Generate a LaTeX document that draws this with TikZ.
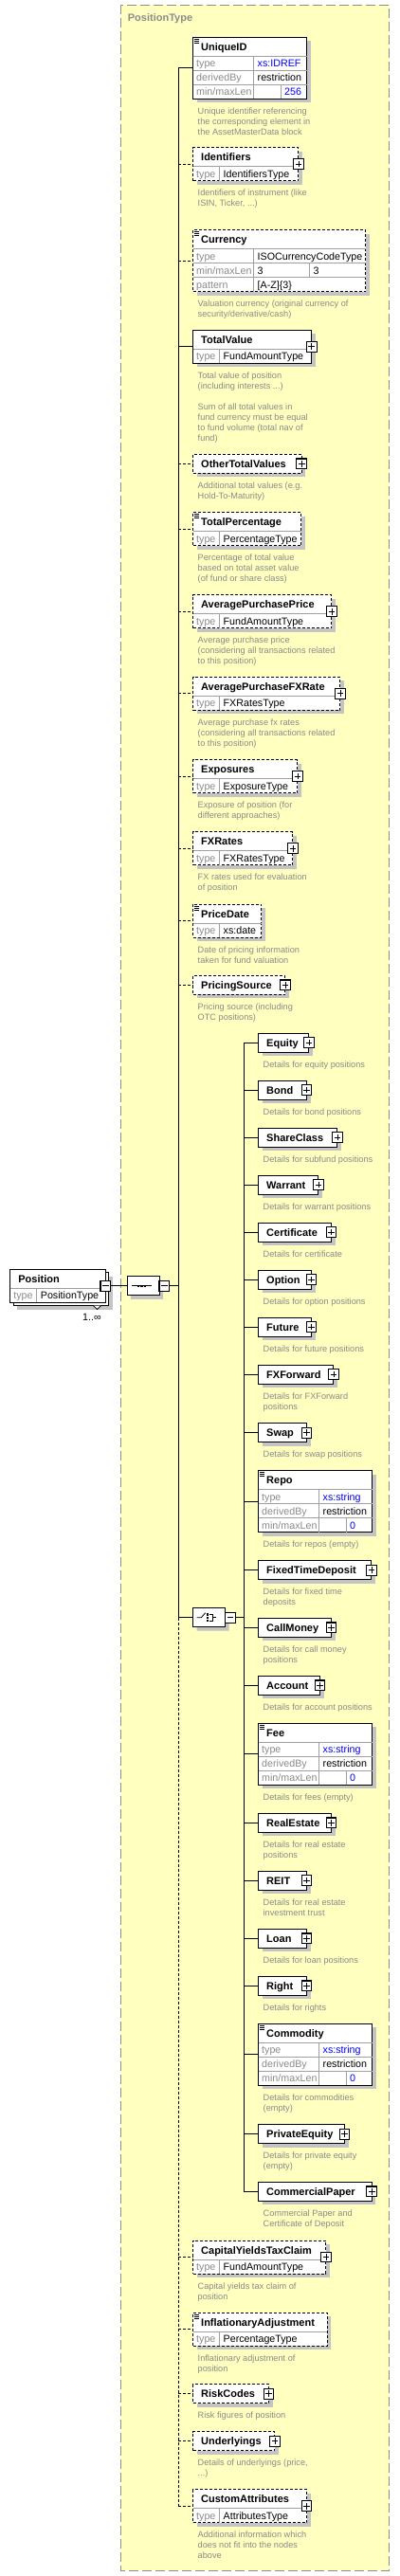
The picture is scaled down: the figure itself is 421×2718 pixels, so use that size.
\documentclass[tikz,border=0pt]{standalone}
\usepackage{fontspec}
\setmainfont{Liberation Sans}
\usetikzlibrary{shapes.misc}

\definecolor{typeyellow}{HTML}{FFFFC0}
\definecolor{framegray}{HTML}{8C8C8C}
\definecolor{shadowgray}{HTML}{C4C4C4}
\definecolor{descgray}{HTML}{8A8A8A}
\definecolor{labelgray}{HTML}{8A8A8A}
\definecolor{sepgray}{HTML}{A0A0A0}
\definecolor{xsblue}{HTML}{0000FF}

\newcommand{\namefont}{\fontsize{11}{13}\selectfont\bfseries}
\newcommand{\cellfont}{\fontsize{10.7}{12}\selectfont}
\newcommand{\descfont}{\fontsize{9.2}{11}\selectfont}

\begin{document}
\begin{tikzpicture}[x=1pt, y=-1pt]

% GLOBAL SETTINGS
\tikzset{
  box/.style={draw, fill=white, line width=0.9pt, inner sep=0pt, outer sep=0pt},
  mand/.style={box},
  opt/.style={box, dash pattern=on 3pt off 2pt},
  comp/.style={box, chamfered rectangle, chamfered rectangle xsep=4pt,
    chamfered rectangle ysep=4pt, minimum width=34pt, minimum height=20pt},
  compshade/.style={comp, draw=none, fill=shadowgray},
  minusbox/.style={draw, fill=white, line width=1.1pt, minimum size=10.7pt, inner sep=0pt,
    outer sep=0pt, path picture={\draw[line width=0.8pt]
      ([xshift=2pt]path picture bounding box.west) -- ([xshift=-2pt]path picture bounding box.east);}},
  plusbox/.style={draw, fill=white, line width=1.1pt, minimum size=10.7pt, inner sep=0pt,
    outer sep=0pt, path picture={\draw[line width=0.8pt]
      ([xshift=2pt]path picture bounding box.west) -- ([xshift=-2pt]path picture bounding box.east)
      ([yshift=-2pt]path picture bounding box.north) -- ([yshift=2pt]path picture bounding box.south);}},
  elname/.style={font=\namefont, inner sep=0pt, anchor=base west},
  celltxt/.style={font=\cellfont, inner sep=0pt, anchor=base west},
  desc/.style={font=\descfont, text=descgray, align=left, inner sep=0pt, anchor=north west},
  sepline/.style={draw=sepgray, line width=0.8pt},
  edge/.style={line width=0.9pt},
  optline/.style={dash pattern=on 3pt off 2pt},
  frame/.style={draw=framegray, fill=typeyellow, line width=1pt, dash pattern=on 10pt off 4pt}
}

% SHARED CODE
\newcommand{\elem}[6]{%
  \fill[shadowgray] (#2+4,#3+4) rectangle ++(#4,#5);
  \node[#6, minimum width=#4pt, minimum height=#5pt, anchor=north west] (#1) at (#2,#3) {};
  \node[elname] (#1-n) at ([shift={(8.5pt,-14pt)}]#1.north west) {#1};}
\newcommand{\tsep}[2]{%
  \pgfmathsetmacro{\rtop}{20+15*(#2-1)}
  \draw[sepline] ([yshift=-\rtop pt]#1.north west) -- ([yshift=-\rtop pt]#1.north east);}
\newcommand{\tsplit}[3]{%
  \pgfmathsetmacro{\rtop}{20+15*(#3-1)}
  \draw[sepline] ([shift={(#2pt,-\rtop pt)}]#1.north west) -- ([xshift=#2pt]#1.south west);}
\newcommand{\tcell}[6]{%
  \pgfmathsetmacro{\rbase}{31.5+15*(#4-1)}
  \node[celltxt, text=#5] (#1-#2) at ([shift={(#3pt,-\rbase pt)}]#1.north west) {#6};}
\newcommand{\typed}[2]{%
  \tsep{#1}{1}\tsplit{#1}{28}{1}
  \tcell{#1}{l1}{3.5}{1}{labelgray}{type}\tcell{#1}{v1}{32}{1}{black}{#2}}
\newcommand{\restr}[3]{%
  \tsep{#1}{1}\tsep{#1}{2}\tsep{#1}{3}\tsplit{#1}{64}{1}\tsplit{#1}{92.4}{3}
  \tcell{#1}{l1}{3.5}{1}{labelgray}{type}\tcell{#1}{v1}{68}{1}{xsblue}{#2}
  \tcell{#1}{l2}{3.5}{2}{labelgray}{derivedBy}\tcell{#1}{v2}{68}{2}{black}{restriction}
  \tcell{#1}{l3}{3.5}{3}{labelgray}{min/maxLen}\tcell{#1}{v3}{96.4}{3}{xsblue}{#3}}
\newcommand{\sicon}[1]{%
  \draw[line width=0.6pt] ([shift={(1.5pt,-2pt)}]#1.north west) -- +(5pt,0pt)
    ([shift={(1.5pt,-4pt)}]#1.north west) -- +(5pt,0pt)
    ([shift={(1.5pt,-6pt)}]#1.north west) -- +(4.5pt,0pt);}
\newcommand{\desc}[2]{%
  \node[desc] (#1-d) at ([shift={(5pt,-8.1pt)}]#1.south west) {\strut #2};}

\useasboundingbox (0,0) rectangle (421,2718);

% TYPE FRAME
\draw[frame] (127.3,5.3) rectangle (410.7,2712.3);
\node[elname, text=framegray] (ptype) at (134.7,22.3) {PositionType};
\coordinate (spx) at (188.3,0);
\coordinate (cpx) at (257.3,0);

% POSITION
\fill[shadowgray] (18,1346.5) rectangle ++(100.6,35);
\node[box, minimum width=100.6pt, minimum height=35pt, anchor=north west] (Position-b) at (14,1342.5) {};
\node[box, minimum width=100.6pt, minimum height=35pt, anchor=north west] (Position) at (10.7,1339.3) {};
\node[elname] (Position-n) at ([shift={(8.5pt,-14pt)}]Position.north west) {Position};
\typed{Position}{PositionType}
\draw[line width=0.8pt, fill=white] (98.3,1377.5) -- (102.5,1381.5) -- (106.7,1377.5);
\node[celltxt] (Position-m) at (87,1393.3) {1..∞};
\node[minusbox] (Position-c) at (Position.east) {};

% SEQUENCE
\node[compshade] (seq-s) at (155,1360.8) {};
\node[comp] (seq) at (151,1356.8) {};
\node[minusbox, anchor=west] (seq-c) at (seq.east) {};
\draw[line width=0.8pt] ([xshift=-11.7pt]seq.center) -- ([xshift=9pt]seq.center);
\foreach \dx in {-5,-1.5,2}
  \fill ([shift={(\dx pt-1.3pt,-1.3pt)}]seq.center) rectangle +(2.6pt,2.6pt);

% MAIN ELEMENTS
\foreach \nm/\by/\bw/\bh/\bs in {UniqueID/39/120/65/mand,Identifiers/155.5/111.4/35/opt,
  Currency/242.7/182.4/65/opt,TotalValue/348.3/125.3/35/mand,OtherTotalValues/479.3/114.7/20/opt,
  TotalPercentage/540.7/114.4/35/opt,AveragePurchasePrice/627.7/146.4/35/opt,
  AveragePurchaseFXRate/714.3/155.4/35/opt,Exposures/801.5/110.4/35/opt,FXRates/877.7/105.4/35/opt,
  PriceDate/954/72.4/35/opt,PricingSource/1029.3/97.4/20/opt,CapitalYieldsTaxClaim/2364/140.4/35/opt,
  InflationaryAdjustment/2440/141.7/35/opt,RiskCodes/2515.7/80/20/opt,Underlyings/2565.7/86.4/20/opt,
  CustomAttributes/2626.7/120/35/opt} {
  \elem{\nm}{203.5}{\by}{\bw}{\bh}{\bs}
}

% CHOICE
\node[compshade] (choice-s) at (224.5,1710.7) {};
\node[comp] (choice) at (220.5,1706.7) {};
\node[minusbox, anchor=west] (choice-c) at (choice.east) {};
\draw[line width=0.8pt] ([xshift=-12.8pt]choice.center) -- ([xshift=-8.2pt]choice.center)
  -- ([shift={(-3.8pt,5pt)}]choice.center);
\foreach \dy in {3.3,0,-3.3}
  \fill ([shift={(-2.7pt,\dy pt-1.2pt)}]choice.center) rectangle +(2.4pt,2.4pt);
\draw[line width=0.8pt] ([shift={(0.5pt,3.3pt)}]choice.center) -- ([shift={(3.8pt,3.3pt)}]choice.center)
  -- ([shift={(3.8pt,-3.3pt)}]choice.center) -- ([shift={(0.5pt,-3.3pt)}]choice.center)
  ([xshift=3.8pt]choice.center) -- ([xshift=7.8pt]choice.center);

\foreach \nm/\by/\bw/\bh in {Equity/1090/53.4/20,Bond/1140/51/20,ShareClass/1190/83.4/20,
  Warrant/1240/63.4/20,Certificate/1290/77/20,Option/1340/56/20,Future/1390/56/20,
  FXForward/1440/79.4/20,Swap/1501.7/51/20,Repo/1551.7/120/65,FixedTimeDeposit/1646.7/119.4/20,
  CallMoney/1707.3/77/20,Account/1768.3/65/20,Fee/1818.3/120/65,RealEstate/1913.3/77/20,
  REIT/1974/51/20,Loan/2035.3/51/20,Right/2085.3/51/20,Commodity/2135.3/120/65,
  PrivateEquity/2241.7/91/20,CommercialPaper/2302.3/119.7/20} {
  \elem{\nm}{272.5}{\by}{\bw}{\bh}{mand}
}

% TABLES
\restr{UniqueID}{xs:IDREF}{256}
\restr{Repo}{xs:string}{0}
\restr{Fee}{xs:string}{0}
\restr{Commodity}{xs:string}{0}
\tsep{Currency}{1}\tsep{Currency}{2}\tsep{Currency}{3}\tsplit{Currency}{64}{1}
\draw[sepline] ([shift={(123pt,-35pt)}]Currency.north west) -- ([shift={(123pt,-50pt)}]Currency.north west);
\tcell{Currency}{l1}{3.5}{1}{labelgray}{type}\tcell{Currency}{v1}{68}{1}{black}{ISOCurrencyCodeType}
\tcell{Currency}{l2}{3.5}{2}{labelgray}{min/maxLen}\tcell{Currency}{v2}{68}{2}{black}{3}
\tcell{Currency}{v2b}{127}{2}{black}{3}
\tcell{Currency}{l3}{3.5}{3}{labelgray}{pattern}\tcell{Currency}{v3}{68}{3}{black}{[A-Z]\{3\}}
\foreach \nm/\tp in {Identifiers/IdentifiersType,TotalValue/FundAmountType,
  TotalPercentage/PercentageType,AveragePurchasePrice/FundAmountType,
  AveragePurchaseFXRate/FXRatesType,Exposures/ExposureType,FXRates/FXRatesType,
  PriceDate/xs:date,CapitalYieldsTaxClaim/FundAmountType,
  InflationaryAdjustment/PercentageType,CustomAttributes/AttributesType} {
  \typed{\nm}{\tp}
}
\foreach \nm in {UniqueID,Currency,TotalPercentage,PriceDate,InflationaryAdjustment,Repo,Fee,Commodity}
  \sicon{\nm};

% DESCRIPTIONS
\desc{UniqueID}{Unique identifier referencing\\the corresponding element in\\the AssetMasterData block}
\desc{Identifiers}{Identifiers of instrument (like\\ISIN, Ticker, ...)}
\desc{Currency}{Valuation currency (original currency of\\security/derivative/cash)}
\desc{TotalValue}{Total value of position\\(including interests ...)\\[11pt]Sum of all total values in\\fund currency must be equal\\to fund volume (total nav of\\fund)}
\desc{OtherTotalValues}{Additional total values (e.g.\\Hold-To-Maturity)}
\desc{TotalPercentage}{Percentage of total value\\based on total asset value\\(of fund or share class)}
\desc{AveragePurchasePrice}{Average purchase price\\(considering all transactions related\\to this position)}
\desc{AveragePurchaseFXRate}{Average purchase fx rates\\(considering all transactions related\\to this position)}
\desc{Exposures}{Exposure of position (for\\different approaches)}
\desc{FXRates}{FX rates used for evaluation\\of position}
\desc{PriceDate}{Date of pricing information\\taken for fund valuation}
\desc{PricingSource}{Pricing source (including\\OTC positions)}
\desc{Equity}{Details for equity positions}
\desc{Bond}{Details for bond positions}
\desc{ShareClass}{Details for subfund positions}
\desc{Warrant}{Details for warrant positions}
\desc{Certificate}{Details for certificate}
\desc{Option}{Details for option positions}
\desc{Future}{Details for future positions}
\desc{FXForward}{Details for FXForward\\positions}
\desc{Swap}{Details for swap positions}
\desc{Repo}{Details for repos (empty)}
\desc{FixedTimeDeposit}{Details for fixed time\\deposits}
\desc{CallMoney}{Details for call money\\positions}
\desc{Account}{Details for account positions}
\desc{Fee}{Details for fees (empty)}
\desc{RealEstate}{Details for real estate\\positions}
\desc{REIT}{Details for real estate\\investment trust}
\desc{Loan}{Details for loan positions}
\desc{Right}{Details for rights}
\desc{Commodity}{Details for commodities\\(empty)}
\desc{PrivateEquity}{Details for private equity\\(empty)}
\desc{CommercialPaper}{Commercial Paper and\\Certificate of Deposit}
\desc{CapitalYieldsTaxClaim}{Capital yields tax claim of\\position}
\desc{InflationaryAdjustment}{Inflationary adjustment of\\position}
\desc{RiskCodes}{Risk figures of position}
\desc{Underlyings}{Details of underlyings (price,\\...)}
\desc{CustomAttributes}{Additional information which\\does not fit into the nodes\\above}

% EDGES
\draw[edge] (Position-c.east) -- (seq.west);
\draw[edge] (seq-c.east) -- (seq-c.east -| spx);
\draw[edge] (UniqueID.west -| spx) -- (choice.west -| spx);
\draw[edge, optline] (choice.west -| spx) -- (CustomAttributes.west -| spx);
\foreach \e in {UniqueID,TotalValue}
  \draw[edge] (\e.west -| spx) -- (\e.west);
\foreach \e in {Identifiers,Currency,OtherTotalValues,TotalPercentage,AveragePurchasePrice,
  AveragePurchaseFXRate,Exposures,FXRates,PriceDate,PricingSource,CapitalYieldsTaxClaim,
  InflationaryAdjustment,RiskCodes,Underlyings,CustomAttributes}
  \draw[edge, optline] (\e.west -| spx) -- (\e.west);
\draw[edge] (choice.west -| spx) -- (choice.west);
\draw[edge] (choice-c.east) -- (choice-c.east -| cpx);
\draw[edge] (Equity.west -| cpx) -- (CommercialPaper.west -| cpx);
\foreach \e in {Equity,Bond,ShareClass,Warrant,Certificate,Option,Future,FXForward,Swap,Repo,
  FixedTimeDeposit,CallMoney,Account,Fee,RealEstate,REIT,Loan,Right,Commodity,PrivateEquity,
  CommercialPaper}
  \draw[edge] (\e.west -| cpx) -- (\e.west);

% EXPAND BUTTONS
\foreach \e in {Identifiers,TotalValue,OtherTotalValues,AveragePurchasePrice,AveragePurchaseFXRate,
  Exposures,FXRates,PricingSource,CapitalYieldsTaxClaim,RiskCodes,Underlyings,CustomAttributes,
  Equity,Bond,ShareClass,Warrant,Certificate,Option,Future,FXForward,Swap,FixedTimeDeposit,
  CallMoney,Account,RealEstate,REIT,Loan,Right,PrivateEquity,CommercialPaper}
  \node[plusbox] (\e-p) at (\e.east) {};

\end{tikzpicture}
\end{document}
